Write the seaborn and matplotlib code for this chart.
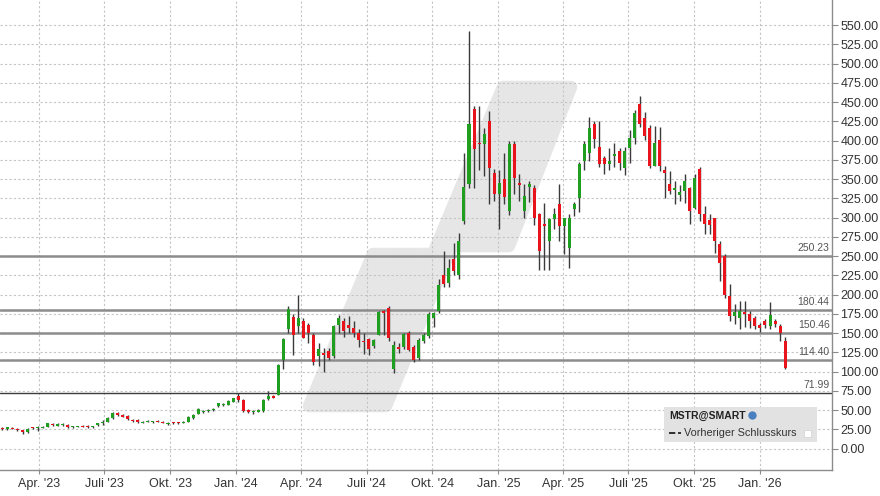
import numpy as np
import pandas as pd
import matplotlib
matplotlib.use("Agg")
import matplotlib.pyplot as plt
import matplotlib.dates as mdates
from matplotlib.patches import Polygon, Rectangle
from matplotlib.lines import Line2D
from matplotlib.ticker import FormatStrFormatter
import seaborn as sns

# ---------------- data (weekly candles, MSTR) ----------------
first_week = "2023-02-09"
opens = [27, 25, 27, 25.5, 24, 21, 26.5, 26, 27, 28.5, 32, 29.5, 30, 31, 27.5, 28, 29.5, 29, 27.5, 30,
         32.5, 35, 39, 46.5, 43.5, 42, 37.5, 37, 33.5, 34.5, 34.5, 36, 35, 32, 34, 34, 33, 35, 39, 45,
         47, 49, 50, 55, 56.5, 57, 61, 68, 63, 50, 47, 48, 48.5, 64, 68.5, 70, 115, 155, 171, 159,
         165, 160, 148, 120, 124, 126, 120, 161, 165, 160, 157, 150, 140, 142, 133, 148, 179, 182, 103, 132,
         132, 150, 132, 117, 140, 146, 170, 178, 225, 215, 246, 226, 295, 344, 441, 397, 395, 425, 358, 330,
         350, 308, 395, 345, 308, 340, 338, 304, 292, 269, 298, 317, 289, 260, 311, 325, 373, 384, 421, 392,
         377, 369, 380, 386, 364, 390, 403, 447, 429, 416, 367, 401, 362, 344, 336, 329, 334, 338, 312, 363,
         305, 297, 299, 265, 250, 198, 172, 169, 177, 175, 169, 161, 165, 159, 165, 159, 139]
highs = [28, 28.5, 27.5, 26, 24.5, 26, 27.5, 29, 29, 33.5, 33, 32.5, 33, 31.5, 29, 29.5, 30, 30, 29.5, 33.5,
         36.5, 40.5, 47.5, 47, 44.5, 43, 38, 38, 35.5, 36.5, 36, 36.5, 35.5, 34, 35, 34.5, 35.5, 42, 45, 52,
         50, 51.5, 52.5, 59.5, 59, 63, 66, 72, 64, 51, 50, 51, 64, 75, 70, 110, 143, 185, 175, 200,
         170, 163, 150, 137, 130, 130, 160, 174, 170, 172, 165, 155, 150, 144, 142, 178, 180, 185, 140, 137,
         150, 153, 135, 143, 150, 177, 177, 220, 256, 246, 267, 280, 384, 542, 445, 445, 416, 438, 363, 362,
         384, 400, 400, 356, 343, 348, 342, 306, 319, 299, 312, 343, 300, 305, 320, 372, 400, 430, 426, 426,
         380, 390, 397, 390, 392, 414, 439, 458, 437, 420, 419, 417, 367, 360, 347, 342, 357, 340, 356, 366,
         315, 305, 300, 269, 252, 214, 188, 191, 192, 178, 172, 163, 168, 190, 168, 162, 145]
lows = [24.5, 24.5, 25, 23, 19.5, 20.5, 25.5, 23, 26.5, 28, 29, 29, 29.5, 26.5, 27, 27.5, 27.5, 27, 27, 29.5,
        31, 34.5, 38.5, 42.5, 40.5, 37.5, 35, 33.5, 33, 34, 33.5, 34, 33, 31, 32, 32, 32.5, 34.5, 38.5, 44.5,
        46, 48, 49, 54.5, 55.5, 56, 60, 60, 47, 46, 45, 47.5, 48, 63, 65, 69, 103, 150, 122, 150,
        143, 137, 108, 107, 99, 115, 118, 150, 145, 150, 145, 132, 123, 121, 130, 147, 148, 140, 98, 124,
        129, 127, 112, 115, 137, 143, 158, 176, 210, 210, 226, 220, 291, 338, 338, 362, 354, 317, 321, 285,
        317, 303, 330, 321, 299, 320, 290, 232, 232, 232, 285, 269, 252, 234, 302, 307, 362, 373, 390, 366,
        357, 362, 365, 362, 355, 371, 395, 418, 401, 364, 367, 360, 325, 330, 317, 322, 319, 292, 311, 296,
        278, 278, 254, 217, 195, 165, 162, 155, 158, 157, 155, 151, 156, 155, 158, 139, 103]
closes = [25, 27.5, 25.5, 24, 21, 25, 26, 27, 28, 32.5, 30, 31.5, 32, 28, 28.5, 29, 28, 28, 28.5, 33,
          35, 39.5, 46.5, 43.5, 41.5, 38, 35.5, 35, 34.5, 35.5, 35, 34.5, 33.5, 33, 33, 33, 35, 41, 44, 51,
          48.5, 50.5, 51.5, 58.5, 58, 62, 65, 62.5, 48.5, 48, 48.5, 50, 63, 68.5, 66, 108, 142, 181, 148, 170,
          144, 150, 113, 129, 122, 118, 159, 169, 152, 157, 150, 141, 138, 129, 141, 177, 176, 143, 135, 129,
          149, 128, 115, 141, 147, 175, 176, 213, 214, 234, 230, 269, 340, 421, 389, 395, 408, 364, 330, 345,
          327, 396, 351, 342, 328, 344, 299, 256, 289, 298, 305, 289, 299, 299, 317, 369, 395, 416, 402, 369,
          369, 373, 382, 371, 386, 403, 436, 422, 406, 367, 397, 367, 358, 334, 338, 333, 347, 308, 351, 304,
          291, 290, 269, 241, 200, 172, 177, 179, 175, 165, 159, 157, 160, 174, 162, 150, 104]

levels = [250.23, 180.44, 150.46, 114.40, 71.99]
level_labels = ["250.23", "180.44", "150.46", "114.40", "71.99"]

xtick_dates = ["2023-04-01", "2023-07-01", "2023-10-01", "2024-01-01", "2024-04-01", "2024-07-01",
               "2024-10-01", "2025-01-01", "2025-04-01", "2025-07-01", "2025-10-01", "2026-01-01"]
xtick_labels = ["Apr. '23", "Juli '23", "Okt. '23", "Jan. '24", "Apr. '24", "Juli '24",
                "Okt. '24", "Jan. '25", "Apr. '25", "Juli '25", "Okt. '25", "Jan. '26"]

legend_title = "MSTR@SMART"
legend_item = "Vorheriger Schlusskurs"

# ---------------- styling ----------------
sns.set_theme(style="white")
plt.rcParams["font.family"] = ["Liberation Sans", "DejaVu Sans"]

W, H = 880, 496
fig = plt.figure(figsize=(W / 100, H / 100), dpi=100)
ax = fig.add_axes([0, 1 - 470 / H, 832 / W, 470 / H])

df = pd.DataFrame({
    "date": pd.date_range(first_week, periods=len(opens), freq="7D"),
    "open": opens, "high": highs, "low": lows, "close": closes,
})
df["x"] = mdates.date2num(df["date"])
df["up"] = df["close"] >= df["open"]
green, red, wick = "#1f9e1f", "#e8131b", "#3a3a3a"

# watermark (figure pixel coords -> figure fraction), rounded by a thick round-joined edge
wm_px = [(309, 406), (373, 254), (433, 254), (503, 87), (571, 87), (509, 246), (452, 246), (386, 406)]
wm = Polygon([(x / W, 1 - y / H) for x, y in wm_px], closed=True, transform=fig.transFigure,
             facecolor="#e6e6e6", edgecolor="#e6e6e6", lw=9, joinstyle="round", zorder=0.2)
ax.add_patch(wm)

# grid
ax.set_axisbelow(True)
ax.grid(True, which="major", axis="both", color="#c4c4c4", linestyle=(0, (2, 2)), linewidth=0.8)

# levels
for lv, lab in zip(levels, level_labels):
    if lab == "71.99":
        ax.axhline(lv, color="#3c3c3c", lw=1.0, zorder=1)
    else:
        ax.axhline(lv, color="#8c8c8c", lw=1.8, zorder=1)

# candles
ax.vlines(df["x"], df["low"], df["high"], color=wick, lw=1.0, zorder=2)
body_bottom = np.minimum(df["open"], df["close"])
body_h = np.maximum(np.abs(df["close"] - df["open"]), 1.5)
ax.bar(df["x"], body_h, bottom=body_bottom, width=4.2,
       color=np.where(df["up"], green, red), edgecolor="none", zorder=3)

# limits & axes
xmin = mdates.date2num(pd.Timestamp("2023-02-05 14:00"))
xmax = mdates.date2num(pd.Timestamp("2026-04-11 12:00"))
ax.set_xlim(xmin, xmax)
ax.set_ylim(-27.9, 582.5)

ax.yaxis.tick_right()
ax.set_yticks(np.arange(0, 551, 25))
ax.yaxis.set_major_formatter(FormatStrFormatter("%.2f"))
ax.set_xticks(mdates.date2num(pd.to_datetime(xtick_dates)))
ax.set_xticklabels(xtick_labels)
ax.tick_params(axis="y", which="major", right=True, left=False, length=4, width=0.8,
               color="#8c8c8c", labelsize=9, labelcolor="#333333", pad=2)
ax.tick_params(axis="x", which="major", bottom=True, length=3, width=0.8,
               color="#8c8c8c", labelsize=9, labelcolor="#333333", pad=3)
for s in ["top", "left"]:
    ax.spines[s].set_visible(False)
for s in ["right", "bottom"]:
    ax.spines[s].set_color("#8c8c8c")
    ax.spines[s].set_linewidth(1.0)
ax.set_xlabel("")
ax.set_ylabel("")

# level labels
for lv, lab in zip(levels, level_labels):
    ax.text(0.997, lv + 4, lab, transform=ax.get_yaxis_transform(), ha="right", va="bottom",
            fontsize=7.5, color="#555555", zorder=4)

# legend box
fig.patches.append(Rectangle((664 / W, 1 - 442 / H), 153 / W, 35 / H, transform=fig.transFigure,
                             facecolor="#e2e2e2", edgecolor="none", zorder=5))
fig.text(669 / W, 1 - 416 / H, legend_title, fontsize=7.5, fontweight="bold", color="#222222",
         ha="left", va="center", zorder=6)
fig.lines.append(Line2D([752 / W], [1 - 415 / H], marker="o", markersize=5, color="#4a7fc0",
                        transform=fig.transFigure, zorder=6))
fig.lines.append(Line2D([669 / W, 681 / W], [1 - 433 / H, 1 - 433 / H], color="#222222", lw=1.3,
                        linestyle=(0, (3.5, 1.5)), transform=fig.transFigure, zorder=6))
fig.text(684 / W, 1 - 433 / H, legend_item, fontsize=7.8, color="#333333",
         ha="left", va="center", zorder=6)
fig.patches.append(Rectangle((804 / W, 1 - 437 / H), 7 / W, 7 / H, transform=fig.transFigure,
                             facecolor="white", edgecolor="#d0d0d0", lw=0.5, zorder=6))

fig.savefig("out.png", dpi=100, facecolor="white")
